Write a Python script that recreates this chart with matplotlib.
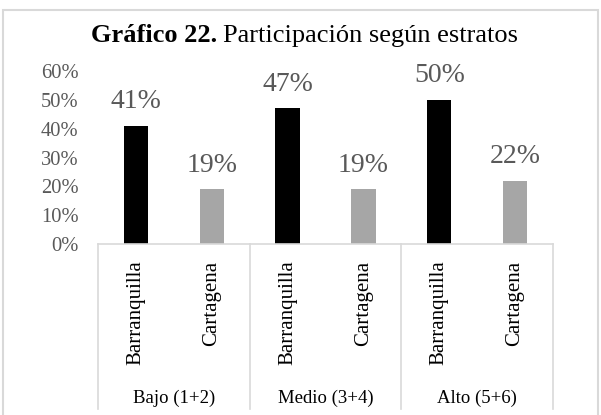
import matplotlib.pyplot as plt
from matplotlib.patches import Rectangle
from matplotlib.lines import Line2D

# ── Data ─────────────────────────────────────────────────────────────────────

groups = ["Bajo (1+2)", "Medio (3+4)", "Alto (5+6)"]
cities = ["Barranquilla", "Cartagena"]
values = [41, 19, 47, 19, 50, 22]          # percent, group by group
y_ticks = [0, 10, 20, 30, 40, 50, 60]

# ── Style ────────────────────────────────────────────────────────────────────

plt.rcParams["font.family"] = "Liberation Serif"
BAR_COLORS = {"Barranquilla": "#000000", "Cartagena": "#a6a6a6"}
GRID_GREY = "#d9d9d9"
TEXT_GREY = "#595959"

W, H = 601, 415
fig = plt.figure(figsize=(W / 100, H / 100), dpi=100)

# axes placed in pixel terms: x 98..553, y 71 (60%) .. 244 (0%)
ax = fig.add_axes([98 / W, 1 - 244 / H, 455 / W, 173 / H])

labels = [c for _ in groups for c in cities]
colors = [BAR_COLORS[c] for c in labels]
xs = list(range(len(values)))
ax.bar(xs, values, width=0.32, color=colors, zorder=2)

for x, v in zip(xs, values):
    ax.annotate(f"{v}%", (x, v), xytext=(0, 12.5), textcoords="offset points",
                ha="center", va="baseline", fontsize=20, color=TEXT_GREY)

ax.set_xlim(-0.5, len(values) - 0.5)
ax.set_ylim(0, 60)
ax.set_yticks(y_ticks)
ax.set_yticklabels([f"{t}%" for t in y_ticks], fontsize=14.8, color=TEXT_GREY)
ax.tick_params(axis="y", length=0, pad=14)

ax.set_xticks(xs)
ax.set_xticklabels(labels, rotation=90, fontsize=15, color="#000000")
ax.tick_params(axis="x", length=0, pad=12)

for side in ["top", "right", "left"]:
    ax.spines[side].set_visible(False)
ax.spines["bottom"].set_color(GRID_GREY)
ax.spines["bottom"].set_linewidth(1.2)

# group separators and group labels under the axis
xt = ax.get_xaxis_transform()
for b in [-0.5, 1.5, 3.5, 5.5]:
    ax.add_line(Line2D([b, b], [0, -0.954], transform=xt, color=GRID_GREY,
                       linewidth=1.2, clip_on=False))
for i, g in enumerate(groups):
    ax.text(2 * i + 0.5, -0.89, g, transform=xt, ha="center", va="center",
            fontsize=13.5, color="#000000")

# title: bold figure number followed by regular text
fig.text(217 / W, 1 - 42 / H, "Gráfico 22.", ha="right", va="baseline",
         fontsize=19, fontweight="bold", color="#000000")
fig.text(223 / W, 1 - 42 / H, "Participación según estratos", ha="left",
         va="baseline", fontsize=19, color="#000000")

# chart-area border
fig.patches.append(Rectangle((3 / W, -0.05), 595 / W, 1 - 10 / H + 0.05,
                             transform=fig.transFigure, fill=False,
                             edgecolor=GRID_GREY, linewidth=1.5))

fig.savefig("out.png", dpi=100, facecolor="white")
